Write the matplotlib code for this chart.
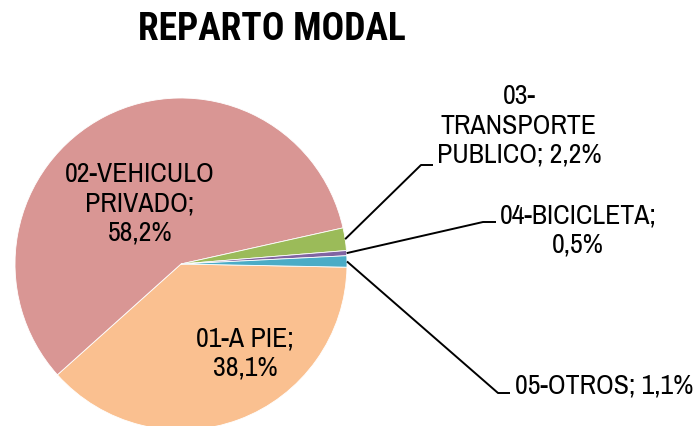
import numpy as np
import matplotlib
matplotlib.use("Agg")
import matplotlib.pyplot as plt

plt.rcParams['font.family'] = ['Archivo Narrow', 'Liberation Sans', 'DejaVu Sans']

# modal split shares (%)
categories = ['01-A PIE', '02-VEHICULO PRIVADO', '03-TRANSPORTE PUBLICO',
              '04-BICICLETA', '05-OTROS']
shares = [38.1, 58.2, 2.2, 0.5, 1.1]
colors = ['#FAC090', '#D99694', '#9BBB59', '#8064A2', '#4BACC6']
label_text = ['01-A PIE;\n38,1%',
              '02-VEHICULO\nPRIVADO;\n58,2%',
              '03-\nTRANSPORTE\nPUBLICO; 2,2%',
              '04-BICICLETA;\n0,5%',
              '05-OTROS; 1,1%']

W, H = 695, 427
fig = plt.figure(figsize=(W / 100, H / 100), dpi=100)
ax = fig.add_axes([0, 0, 1, 1])

cx, cy, r = 181, H - 265, 166
start = -1.1
wedges, _ = ax.pie(shares, colors=colors, startangle=start, counterclock=False,
                   center=(cx, cy), radius=r, frame=True,
                   wedgeprops=dict(edgecolor='white', linewidth=0.6))
ax.set_xlim(0, W)
ax.set_ylim(0, H)
ax.set_aspect('equal')
ax.axis('off')

fs = 20
# labels inside the two big slices
ax.text(140, H - 204, label_text[1], ha='center', va='center', fontsize=fs,
        linespacing=1.2)
ax.text(245, H - 354, label_text[0], ha='center', va='center', fontsize=fs,
        linespacing=1.2)

# outside labels with leader lines: (elbow point, line end, text anchor, ha)
leaders = {
    2: ((421, H - 166), (433, H - 166), (519, H - 126), 'center'),
    3: ((483, H - 223), (496, H - 223), (578, H - 231), 'center'),
    4: ((498, H - 394), (510, H - 394), (515, H - 386), 'left'),
}
for i, (elbow, end, txt, ha) in leaders.items():
    w = wedges[i]
    mid = np.deg2rad((w.theta1 + w.theta2) / 2)
    p0 = (cx + r * np.cos(mid), cy + r * np.sin(mid))
    ax.plot([p0[0], elbow[0], end[0]], [p0[1], elbow[1], end[1]],
            color='black', linewidth=1.4, solid_capstyle='butt')
    ax.text(txt[0], txt[1], label_text[i], ha=ha, va='center', fontsize=fs,
            linespacing=1.2)

ax.text(272, H - 29, 'REPARTO MODAL', ha='center', va='center',
        fontsize=27, fontweight='bold',
        family=['Roboto Condensed', 'Fira Sans Condensed', 'Archivo Narrow'])

fig.savefig('out.png', dpi=100)
